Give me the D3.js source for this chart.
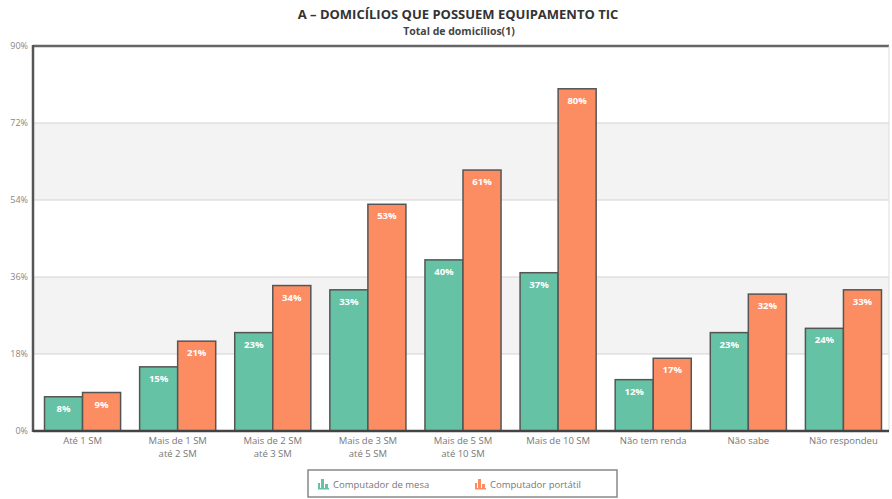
<!DOCTYPE html>
<html><head><meta charset="utf-8">
<script src="https://cdn.jsdelivr.net/npm/d3@7"></script>
<style>body{margin:0;background:#fff;} svg{display:block;font-family:"Open Sans","DejaVu Sans",sans-serif;}</style>
</head><body><svg id="c" width="892" height="499"></svg>
<script>
const categories = ["Até 1 SM","Mais de 1 SM\naté 2 SM","Mais de 2 SM\naté 3 SM","Mais de 3 SM\naté 5 SM","Mais de 5 SM\naté 10 SM","Mais de 10 SM","Não tem renda","Não sabe","Não respondeu"];
const seriesNames = ["Computador de mesa","Computador portátil"];
const desktop = [8,15,23,33,40,37,12,23,24];
const laptop = [9,21,34,53,61,80,17,32,33];
const yTicks = [0,18,36,54,72,90];
const colors = ["#66c2a5","#fc8d62"];

const svg = d3.select("#c");
const L=33,R=889,T=46,B=431;
const x = d3.scaleBand().domain(categories).range([L+2,R+2]).paddingInner(0.2).paddingOuter(0.1);
const xs = d3.scaleBand().domain([0,1]).range([0,x.bandwidth()]);
const y = d3.scaleLinear().domain([0,90]).range([B,T]);

// title
svg.append("text").attr("x",458).attr("y",19).attr("text-anchor","middle").attr("font-size",13).attr("font-weight","bold").attr("fill","#333").text("A – DOMICÍLIOS QUE POSSUEM EQUIPAMENTO TIC");
svg.append("text").attr("x",459).attr("y",35).attr("text-anchor","middle").attr("font-size",10.5).attr("font-weight","bold").attr("fill","#444").text("Total de domicílios(1)");

// bands
for(let i=0;i<yTicks.length-1;i++){
  if(i%2===1){
    svg.append("rect").attr("x",L).attr("width",R-L).attr("y",y(yTicks[i+1])).attr("height",y(yTicks[i])-y(yTicks[i+1])).attr("fill","#f3f3f3");
  }
}
// grid
svg.append("g").selectAll("line").data(yTicks.slice(1,-1)).join("line")
  .attr("x1",L).attr("x2",R).attr("y1",d=>y(d)).attr("y2",d=>y(d)).attr("stroke","#d4d4d4").attr("stroke-width",1.2);

// y axis labels
const ya = svg.append("g").attr("transform",`translate(${L},0)`).call(d3.axisLeft(y).tickValues(yTicks).tickSize(0).tickPadding(5).tickFormat(d=>d+"%"));
ya.select(".domain").remove();
ya.selectAll("text").attr("font-size",9).attr("fill","#888").attr("font-family","'Open Sans','DejaVu Sans',sans-serif");

// bars
const data = categories.map((c,i)=>({c,v:[desktop[i],laptop[i]]}));
const g = svg.append("g").selectAll("g").data(data).join("g").attr("transform",d=>`translate(${x(d.c)},0)`);
g.selectAll("rect").data(d=>d.v.map((v,k)=>({v,k}))).join("rect")
  .attr("x",d=>xs(d.k)).attr("width",xs.bandwidth()).attr("y",d=>y(d.v)).attr("height",d=>B-y(d.v))
  .attr("fill",d=>colors[d.k]).attr("stroke","#555").attr("stroke-width",1.5);
g.selectAll("text").data(d=>d.v.map((v,k)=>({v,k}))).join("text")
  .attr("x",d=>xs(d.k)+xs.bandwidth()/2).attr("y",d=>y(d.v)+15).attr("text-anchor","middle")
  .attr("font-size",9.5).attr("font-weight","bold").attr("fill","#fff").text(d=>d.v+"%");

// frame
svg.append("line").attr("x1",L).attr("x2",R).attr("y1",T).attr("y2",T).attr("stroke","#666").attr("stroke-width",2.5);
svg.append("line").attr("x1",R).attr("x2",R).attr("y1",T).attr("y2",B).attr("stroke","#ddd").attr("stroke-width",1);
svg.append("line").attr("x1",L).attr("x2",L).attr("y1",T-1).attr("y2",B+1).attr("stroke","#555").attr("stroke-width",2.5);
svg.append("line").attr("x1",L).attr("x2",R).attr("y1",B).attr("y2",B).attr("stroke","#444").attr("stroke-width",2.5);

// x labels
const xa = svg.append("g").attr("transform",`translate(0,${B})`).call(d3.axisBottom(x).tickSize(0).tickPadding(0).tickFormat(""));
xa.select(".domain").remove();
xa.selectAll(".tick").each(function(d){
  const t = d3.select(this).append("text").attr("fill","#777").attr("font-size",9.5).attr("text-anchor","middle").attr("font-family","'Open Sans','DejaVu Sans',sans-serif");
  d.split("\n").forEach((s,i)=>t.append("tspan").attr("x",0).attr("y",13+i*12.5).text(s));
});

// legend
const lg = svg.append("g");
lg.append("rect").attr("x",308).attr("y",470).attr("width",309).attr("height",27).attr("fill","#fff").attr("stroke","#888").attr("stroke-width",1.5);
const lx=[318,475];
seriesNames.forEach((n,k)=>{
  const ig = lg.append("g").attr("transform",`translate(${lx[k]},478)`);
  ig.append("rect").attr("x",0).attr("y",5).attr("width",2).attr("height",6).attr("fill",colors[k]);
  ig.append("rect").attr("x",3).attr("y",1).attr("width",3).attr("height",10).attr("fill",colors[k]);
  ig.append("rect").attr("x",7).attr("y",6).attr("width",3).attr("height",5).attr("fill",colors[k]);
  ig.append("rect").attr("x",0).attr("y",10).attr("width",11).attr("height",1.5).attr("fill",colors[k]);
  lg.append("text").attr("x",lx[k]+15).attr("y",488).attr("font-size",9.5).attr("fill","#777").text(n);
});
</script></body></html>
